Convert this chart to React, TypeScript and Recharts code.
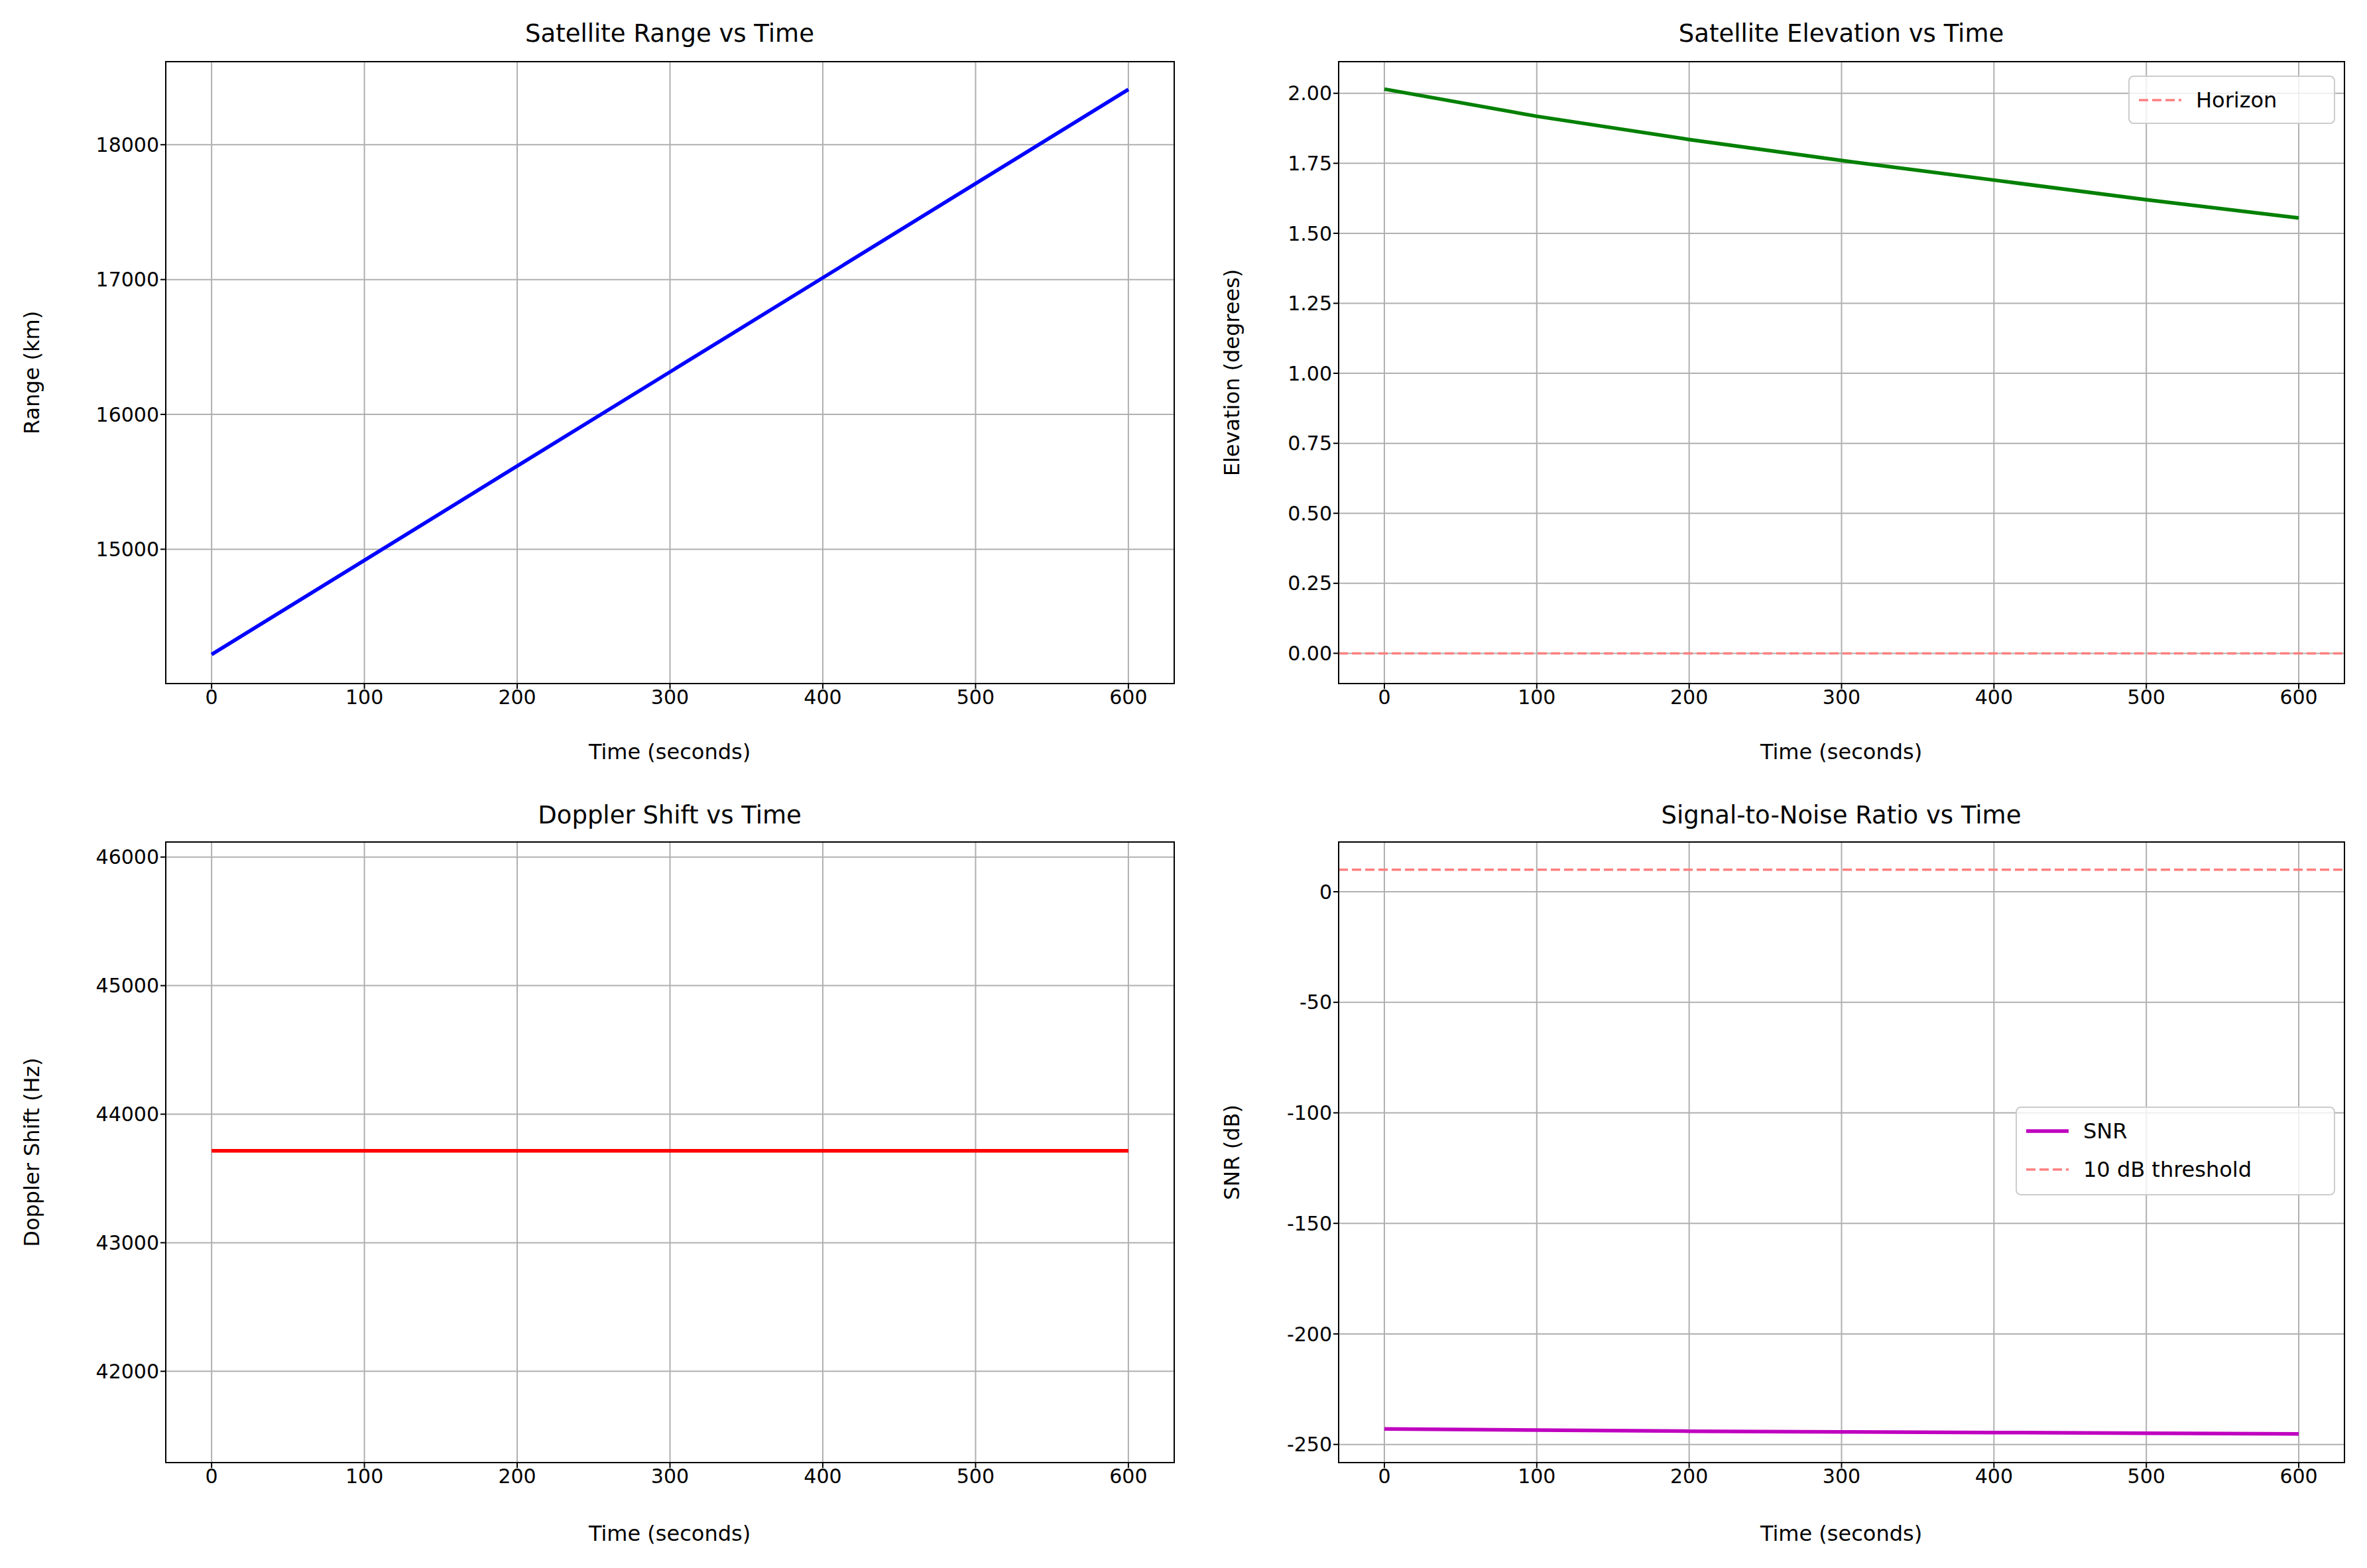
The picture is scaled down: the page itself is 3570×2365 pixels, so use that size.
import React from 'react';
import { LineChart, Line, XAxis, YAxis, CartesianGrid, ReferenceLine } from 'recharts';

const times = [0, 100, 200, 300, 400, 500, 600];
const rangeKm = [14220, 14918, 15617, 16315, 17013, 17712, 18410];
const elevationDeg = [2.015, 1.918, 1.835, 1.76, 1.69, 1.62, 1.555];
const dopplerHz = [43715, 43715, 43715, 43715, 43715, 43715, 43715];
const snrDb = [-243, -243.5, -244, -244.3, -244.6, -244.9, -245.2];

const xTicks = [0, 100, 200, 300, 400, 500, 600];
const rangeTicks = [15000, 16000, 17000, 18000];
const elevTicks = [0, 0.25, 0.5, 0.75, 1, 1.25, 1.5, 1.75, 2];
const dopplerTicks = [42000, 43000, 44000, 45000, 46000];
const snrTicks = [-250, -200, -150, -100, -50, 0];

const FONT = 'DejaVu Sans, sans-serif';
const YW = 150;
const XH = 100;

interface PanelProps {
  left: number; top: number; width: number; height: number;
  plot: { l: number; t: number; r: number; b: number };
  values: number[];
  color: string;
  yDomain: [number, number];
  yTicks: number[];
  fmt?: (v: number) => string;
  refY?: number;
}

function Panel({ left, top, width, height, plot, values, color, yDomain, yTicks, fmt, refY }: PanelProps) {
  const data = times.map((t, i) => ({ t, v: values[i] }));
  const tick = { fontSize: 30, fill: '#000', fontFamily: FONT };
  return (
    <div style={{ position: 'absolute', left, top }}>
      <LineChart width={width} height={height} data={data}
        margin={{ top: plot.t, left: plot.l - YW, right: width - plot.r, bottom: height - plot.b - XH }}>
        <CartesianGrid stroke="#b0b0b0" strokeWidth={2} />
        <XAxis dataKey="t" type="number" domain={[-30, 630]} ticks={xTicks} height={XH}
          tick={tick} tickLine={{ stroke: '#000', strokeWidth: 2 }} tickSize={8}
          axisLine={{ stroke: '#000', strokeWidth: 2 }} />
        <YAxis type="number" domain={yDomain} ticks={yTicks} width={YW} tick={tick}
          tickFormatter={fmt} tickLine={{ stroke: '#000', strokeWidth: 2 }} tickSize={8}
          axisLine={{ stroke: '#000', strokeWidth: 2 }} allowDataOverflow />
        {refY !== undefined && (
          <ReferenceLine y={refY} stroke="#ff7f7f" strokeWidth={3.5} strokeDasharray="14 6" />
        )}
        <Line dataKey="v" stroke={color} strokeWidth={5.5} dot={false} isAnimationActive={false} />
      </LineChart>
      <div style={{ position: 'absolute', left: plot.l - 1, top: plot.t - 1, width: plot.r - plot.l + 2,
        height: plot.b - plot.t + 2, border: '2px solid #000', boxSizing: 'border-box', pointerEvents: 'none' }} />
    </div>
  );
}

const txt = (s: string, x: number, y: number, size: number, rot = false) => (
  <div style={{
    position: 'absolute', left: x, top: y, fontSize: size, fontFamily: FONT, whiteSpace: 'nowrap',
    transform: `translate(-50%, -50%)${rot ? ' rotate(-90deg)' : ''}`,
  }}>{s}</div>
);

function LegendBox({ x, y, w, h, items }: { x: number; y: number; w: number; h: number; items: { label: string; color: string; dashed: boolean }[] }) {
  return (
    <div style={{ position: 'absolute', left: x, top: y, width: w, height: h, border: '2px solid #ccc',
      borderRadius: 8, background: 'rgba(255,255,255,0.8)', boxSizing: 'border-box', padding: '6px 14px',
      fontFamily: FONT, fontSize: 32 }}>
      {items.map((it) => (
        <div key={it.label} style={{ display: 'flex', alignItems: 'center', height: 58 }}>
          <svg width={64} height={10} style={{ marginRight: 22 }}>
            <line x1={0} y1={5} x2={64} y2={5} stroke={it.color} strokeWidth={it.dashed ? 3.5 : 5.5}
              strokeDasharray={it.dashed ? '14 6' : undefined} />
          </svg>
          {it.label}
        </div>
      ))}
    </div>
  );
}

export default function App() {
  const lp = { l: 250, r: 1771 };
  const rp = { l: 229, r: 1746 };
  return (
    <div style={{ position: 'absolute', left: 0, top: 0, width: 3570, height: 2365, background: '#fff', overflow: 'hidden' }}>
      <Panel left={0} top={0} width={1800} height={1180} plot={{ ...lp, t: 93, b: 1031 }}
        values={rangeKm} color="#0000ff" yDomain={[14004, 18616]} yTicks={rangeTicks} />
      <Panel left={1790} top={0} width={1780} height={1180} plot={{ ...rp, t: 93, b: 1031 }}
        values={elevationDeg} color="#008000" yDomain={[-0.108, 2.113]} yTicks={elevTicks}
        fmt={(v) => v.toFixed(2)} refY={0} />
      <Panel left={0} top={1180} width={1800} height={1185} plot={{ ...lp, t: 90, b: 1026 }}
        values={dopplerHz} color="#ff0000" yDomain={[41290, 46117]} yTicks={dopplerTicks} />
      <Panel left={1790} top={1180} width={1780} height={1185} plot={{ ...rp, t: 90, b: 1026 }}
        values={snrDb} color="#bf00bf" yDomain={[-258.2, 22.5]} yTicks={snrTicks} refY={10} />

      {txt('Satellite Range vs Time', 1010, 50, 37)}
      {txt('Satellite Elevation vs Time', 2777, 50, 37)}
      {txt('Doppler Shift vs Time', 1010, 1229, 37)}
      {txt('Signal-to-Noise Ratio vs Time', 2777, 1229, 37)}
      {txt('Time (seconds)', 1010, 1134, 32)}
      {txt('Time (seconds)', 2777, 1134, 32)}
      {txt('Time (seconds)', 1010, 2313, 32)}
      {txt('Time (seconds)', 2777, 2313, 32)}
      {txt('Range (km)', 48, 562, 32, true)}
      {txt('Elevation (degrees)', 1858, 562, 32, true)}
      {txt('Doppler Shift (Hz)', 48, 1738, 32, true)}
      {txt('SNR (dB)', 1858, 1738, 32, true)}

      <LegendBox x={3210} y={114} w={312} h={73}
        items={[{ label: 'Horizon', color: '#ff7f7f', dashed: true }]} />
      <LegendBox x={3040} y={1669} w={482} h={134}
        items={[{ label: 'SNR', color: '#bf00bf', dashed: false }, { label: '10 dB threshold', color: '#ff7f7f', dashed: true }]} />
    </div>
  );
}
